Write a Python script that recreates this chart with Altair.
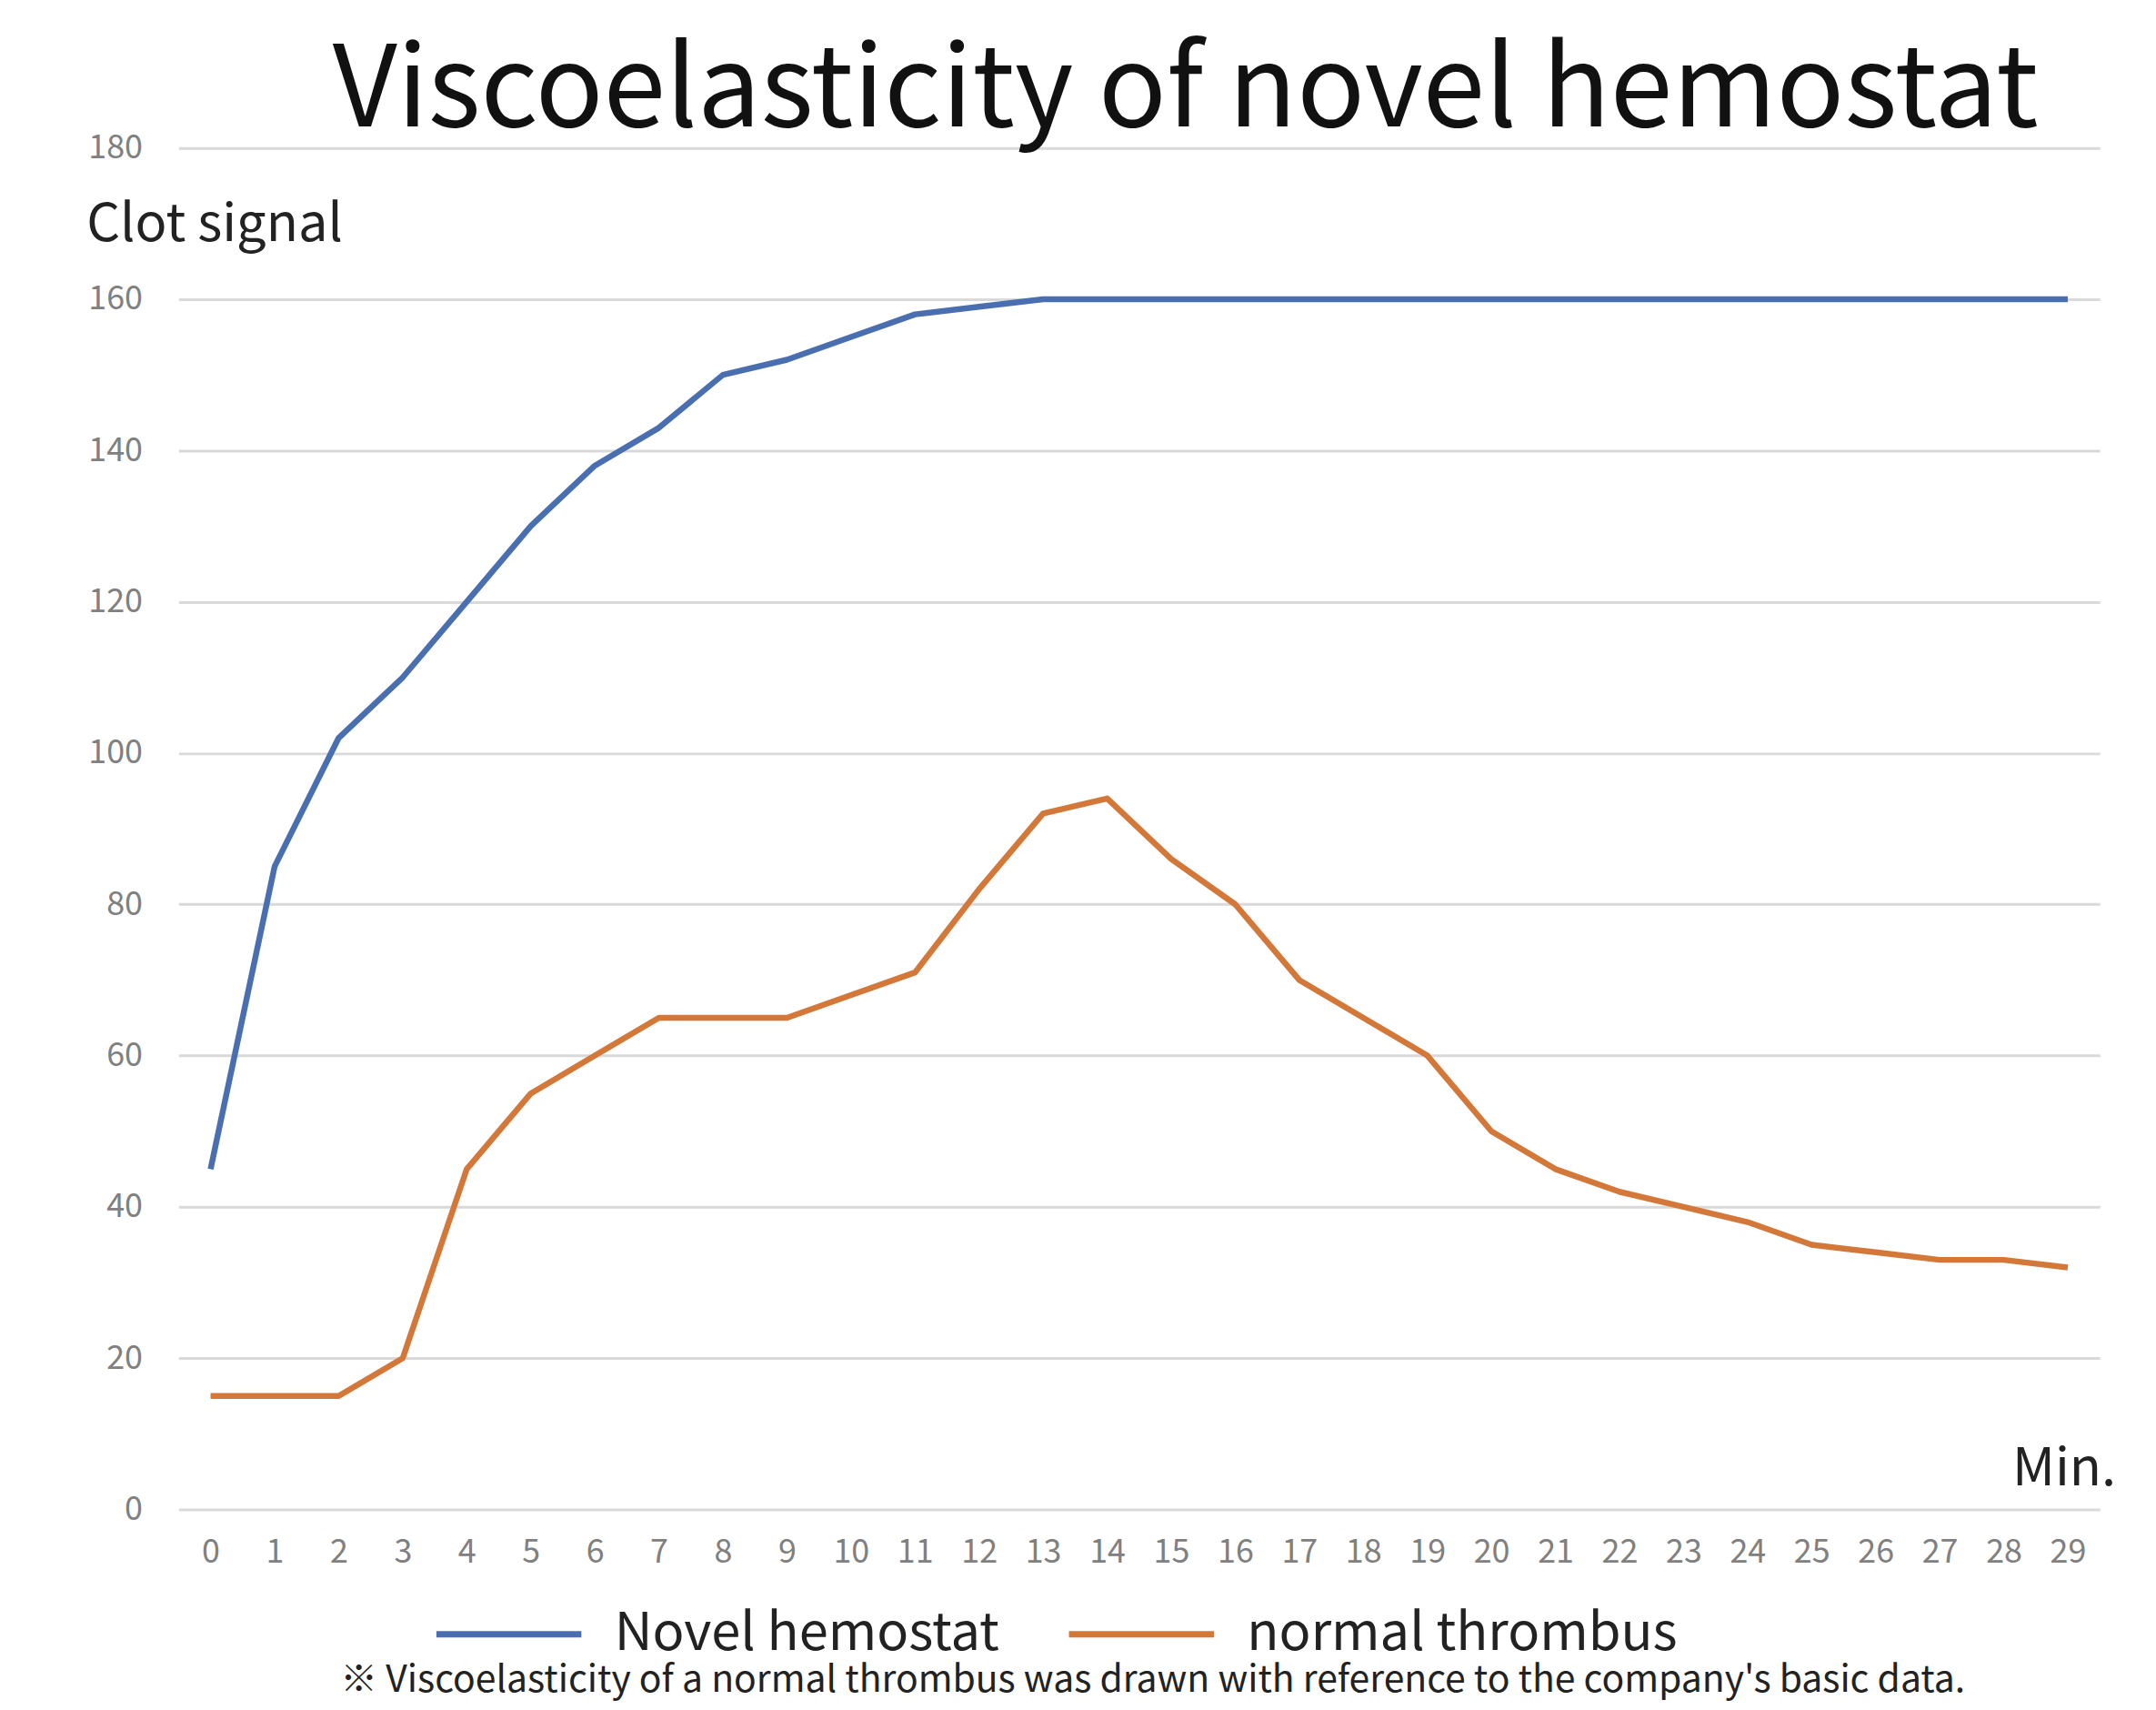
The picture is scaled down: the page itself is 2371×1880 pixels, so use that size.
import altair as alt
import pandas as pd

minutes = list(range(30))
novel_hemostat = [45, 85, 102, 110, 120, 130, 138, 143, 150, 152, 155, 158, 159, 160, 160,
                  160, 160, 160, 160, 160, 160, 160, 160, 160, 160, 160, 160, 160, 160, 160]
normal_thrombus = [15, 15, 15, 20, 45, 55, 60, 65, 65, 65, 68, 71, 82, 92, 94,
                   86, 80, 70, 65, 60, 50, 45, 42, 40, 38, 35, 34, 33, 33, 32]
series_names = ["Novel hemostat", "normal thrombus"]
series_colors = ["#4a6fb0", "#d4783a"]
y_ticks = [0, 20, 40, 60, 80, 100, 120, 140, 160, 180]
footnote = ["※ Viscoelasticity of a normal thrombus was drawn with reference to  the company's basic data."]

FONT = "Noto Sans CJK JP"

rows = []
for m, a, b in zip(minutes, novel_hemostat, normal_thrombus):
    rows.append({"minute": m, "value": a, "series": series_names[0]})
    rows.append({"minute": m, "value": b, "series": series_names[1]})
df = pd.DataFrame(rows)

W, H = 2120, 1502

lines = alt.Chart(df).mark_line(strokeWidth=6.5, strokeJoin="round").encode(
    x=alt.X("minute:O",
            scale=alt.Scale(type="point", padding=0.5),
            axis=alt.Axis(title="Min.", labelAngle=0, labelFontSize=36, labelColor="#808080",
                          labelFont=FONT, labelPadding=30, domain=False, ticks=False, grid=False,
                          titleFont=FONT, titleFontSize=58, titleFontWeight="normal",
                          titleColor="#222222", titleAlign="left", titleBaseline="middle",
                          titleX=2023, titleY=-44, titleAngle=0)),
    y=alt.Y("value:Q",
            scale=alt.Scale(domain=[0, 180], nice=False),
            axis=alt.Axis(title="Clot signal", values=y_ticks, labelFontSize=36,
                          labelColor="#808080", labelFont=FONT, labelPadding=40,
                          domain=False, ticks=False, grid=True, gridColor="#d9d9d9",
                          gridWidth=3, titleFont=FONT, titleFontSize=58,
                          titleFontWeight="normal", titleColor="#222222", titleAngle=0,
                          titleAlign="left", titleBaseline="middle", titleX=-102, titleY=85)),
    color=alt.Color("series:N",
                    scale=alt.Scale(domain=series_names, range=series_colors),
                    legend=alt.Legend(title=None, orient="none", direction="horizontal",
                                      legendX=281, legendY=1556, symbolType="stroke",
                                      symbolSize=25600, symbolStrokeWidth=7,
                                      labelFontSize=58, labelFont=FONT, labelColor="#222222",
                                      labelOffset=33, columnPadding=62, labelLimit=1000)),
)

note = alt.Chart(pd.DataFrame({"note": footnote})).mark_text(
    font=FONT, fontSize=41, color="#222222", align="center", baseline="middle"
).encode(text="note:N", x=alt.value(1075), y=alt.value(1691))

chart = alt.layer(lines, note).properties(
    width=W, height=H,
    title=alt.TitleParams("Viscoelasticity of novel hemostat", font=FONT, fontSize=124,
                          fontWeight="normal", color="#111111", anchor="middle",
                          baseline="alphabetic", offset=0, dx=51, dy=118),
    autosize=alt.AutoSizeParams(type="none"),
    padding={"left": 189, "top": 152, "right": 54, "bottom": 210},
).configure(background="white", view=alt.ViewConfig(stroke=None))

chart.save("out.html", embed_options={"renderer": "svg", "actions": False})
